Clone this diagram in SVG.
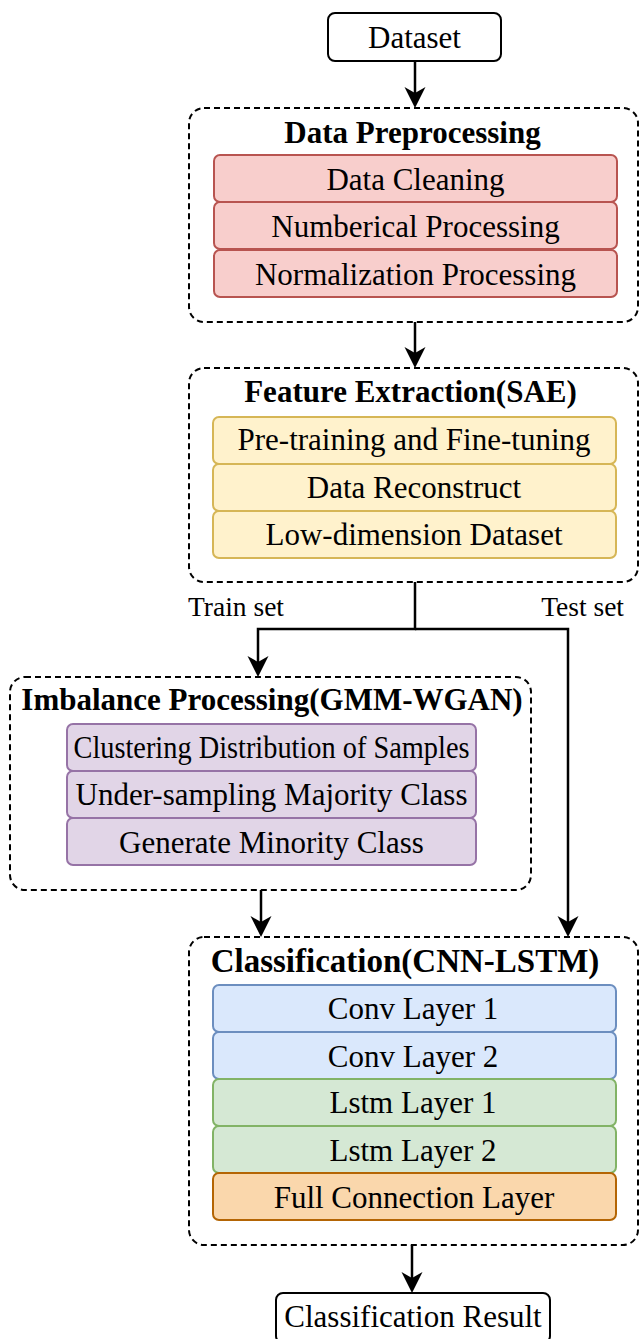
<svg xmlns="http://www.w3.org/2000/svg" width="639" height="1339" viewBox="0 0 639 1339">
<style>
text{font-family:"Liberation Serif","Times New Roman",serif;fill:#000;}
.t{font-size:31px;text-anchor:middle;}
.h{font-size:31px;font-weight:bold;text-anchor:middle;}
.lbl{font-size:27.5px;}
.box{fill:#fff;stroke:#000;stroke-width:2;}
.grp{fill:none;stroke:#000;stroke-width:2;stroke-dasharray:6 4;}
.red{fill:#f8cecc;stroke:#b85450;stroke-width:2;}
.yel{fill:#fff2cc;stroke:#d6b656;stroke-width:2;}
.pur{fill:#e1d5e7;stroke:#9673a6;stroke-width:2;}
.blu{fill:#dae8fc;stroke:#6c8ebf;stroke-width:2;}
.grn{fill:#d5e8d4;stroke:#82b366;stroke-width:2;}
.org{fill:#fad7ac;stroke:#b46504;stroke-width:2;}
.c{fill:none;stroke:#000;stroke-width:2.5;}
</style>
<defs>
<marker id="arr" markerUnits="userSpaceOnUse" markerWidth="22" markerHeight="22" refX="7" refY="11" orient="auto" viewBox="0 0 22 22">
<path d="M21,11 L0,0.5 L6,11 L0,21.5 Z" fill="#000"/>
</marker>
</defs>

<g id="connectors">
<path class="c" d="M415,61 V94" marker-end="url(#arr)"/>
<path class="c" d="M415,322 V354" marker-end="url(#arr)"/>
<path class="c" d="M415,582 V629 H258 V663" marker-end="url(#arr)"/>
<path class="c" d="M415,629 H568 V923" marker-end="url(#arr)"/>
<path class="c" d="M261,890 V923" marker-end="url(#arr)"/>
<path class="c" d="M412,1245 V1279" marker-end="url(#arr)"/>
<text class="lbl" x="188" y="616">Train set</text>
<text class="lbl" x="624" y="616" text-anchor="end">Test set</text>
</g>

<g id="dataset">
<rect class="box" x="328" y="13" width="173" height="48" rx="7"/>
<text class="t" x="414.5" y="48">Dataset</text>
</g>

<g id="data-preprocessing">
<rect class="grp" x="189" y="108" width="449" height="214" rx="15"/>
<text class="h" x="412.5" y="143">Data Preprocessing</text>
<g id="data-cleaning">
<rect class="red" x="214" y="155" width="403" height="47" rx="6"/>
<text class="t" x="415.5" y="190">Data Cleaning</text>
</g>
<g id="numberical-processing">
<rect class="red" x="214" y="202" width="403" height="47" rx="6"/>
<text class="t" x="415.5" y="237">Numberical Processing</text>
</g>
<g id="normalization-processing">
<rect class="red" x="214" y="250" width="403" height="47" rx="6"/>
<text class="t" x="415.5" y="285">Normalization Processing</text>
</g>
</g>

<g id="feature-extraction">
<rect class="grp" x="189" y="368" width="449" height="214" rx="15"/>
<text class="h" x="410.5" y="402">Feature Extraction(SAE)</text>
<g id="pretraining">
<rect class="yel" x="213" y="417" width="403" height="47" rx="6"/>
<text class="t" x="414" y="450">Pre-training and Fine-tuning</text>
</g>
<g id="data-reconstruct">
<rect class="yel" x="213" y="464" width="403" height="47" rx="6"/>
<text class="t" x="414" y="498">Data Reconstruct</text>
</g>
<g id="low-dimension">
<rect class="yel" x="213" y="511" width="403" height="47" rx="6"/>
<text class="t" x="414" y="545">Low-dimension Dataset</text>
</g>
</g>

<g id="imbalance-processing">
<rect class="grp" x="10" y="677" width="521" height="213" rx="15"/>
<text class="h" x="272" y="710">Imbalance Processing(GMM-WGAN)</text>
<g id="clustering">
<rect class="pur" x="67" y="724" width="409" height="47" rx="6"/>
<text class="t" x="271.5" y="758" textLength="396" lengthAdjust="spacingAndGlyphs">Clustering Distribution of Samples</text>
</g>
<g id="under-sampling">
<rect class="pur" x="67" y="771" width="409" height="47" rx="6"/>
<text class="t" x="271.5" y="805">Under-sampling Majority Class</text>
</g>
<g id="generate-minority">
<rect class="pur" x="67" y="818" width="409" height="47" rx="6"/>
<text class="t" x="271.5" y="853">Generate Minority Class</text>
</g>
</g>

<g id="classification">
<rect class="grp" x="189" y="937" width="449" height="308" rx="15"/>
<text class="h" x="405" y="972" style="font-size:33px">Classification(CNN-LSTM)</text>
<g id="conv1">
<rect class="blu" x="213" y="985" width="403" height="47" rx="6"/>
<text class="t" x="413" y="1019">Conv Layer 1</text>
</g>
<g id="conv2">
<rect class="blu" x="213" y="1032" width="403" height="47" rx="6"/>
<text class="t" x="413" y="1067">Conv Layer 2</text>
</g>
<g id="lstm1">
<rect class="grn" x="213" y="1079" width="403" height="47" rx="6"/>
<text class="t" x="413" y="1113">Lstm Layer 1</text>
</g>
<g id="lstm2">
<rect class="grn" x="213" y="1126" width="403" height="47" rx="6"/>
<text class="t" x="413" y="1161">Lstm Layer 2</text>
</g>
<g id="full-connection">
<rect class="org" x="213" y="1173" width="403" height="47" rx="6"/>
<text class="t" x="414" y="1208">Full Connection Layer</text>
</g>
</g>

<g id="classification-result">
<rect class="box" x="276" y="1293" width="274" height="50" rx="7"/>
<text class="t" x="413" y="1327">Classification Result</text>
</g>
</svg>
